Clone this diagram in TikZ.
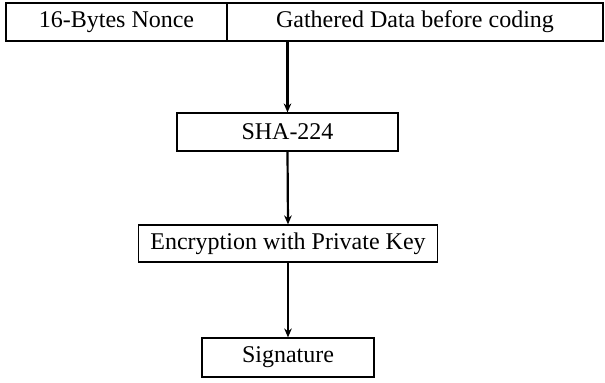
\documentclass[tikz,border=0pt]{standalone}
\usepackage{fontspec}
\setmainfont{Liberation Serif}
\usepackage{tikz}
\usetikzlibrary{arrows.meta}

\tikzset{
  blockbox/.style={draw,line width=.6pt,inner sep=0pt,font=\fontsize{12}{14}\selectfont},
  flowarrow/.style={-{Stealth[length=4.5pt,width=3.8pt]},line width=1.1pt}
}

\begin{document}
\begin{tikzpicture}[x=.5pt,y=-.5pt]
        \useasboundingbox (0,0) rectangle (605,382);
        % header fields
        \node[blockbox,minimum width=110.5pt,minimum height=19pt] (nonce) at (116.5,22) {16-Bytes Nonce};
        \node[blockbox,minimum width=188pt,minimum height=19pt] (gathered) at (415,22) {Gathered Data before coding};
        % processing steps
        \node[blockbox,minimum width=110.5pt,minimum height=19pt] (sha) at (287.5,132) {SHA-224};
        \node[blockbox,minimum width=149.5pt,minimum height=18.5pt] (enc) at (288,243.5) {Encryption with Private Key};
        \node[blockbox,minimum width=86pt,minimum height=19.5pt] (sig) at (288,357.5) {Signature};
        % arrows
        \draw[flowarrow] (sha.north |- gathered.south) -- (sha.north);
        \draw[flowarrow] (sha.south) -- (enc.north);
        \draw[flowarrow] (enc.south) -- (sig.north);
      \end{tikzpicture}
\end{document}
